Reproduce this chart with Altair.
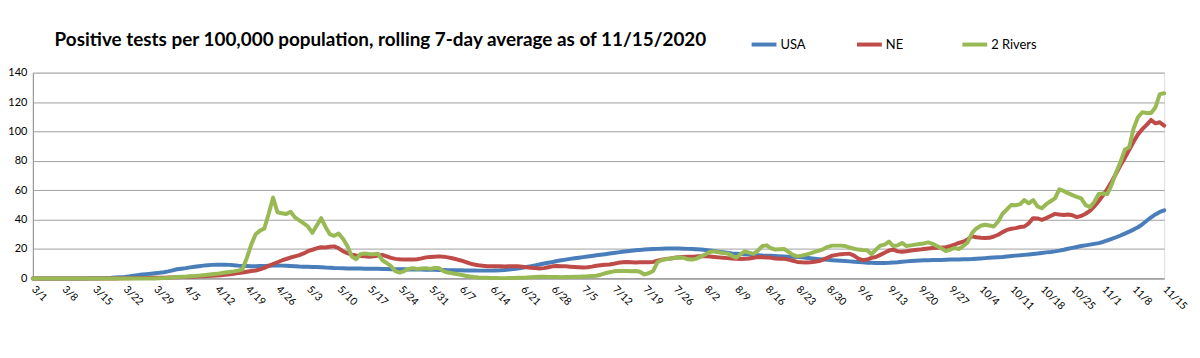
import altair as alt
import pandas as pd

tick_labels = ["3/1", "3/8", "3/15", "3/22", "3/29", "4/5", "4/12", "4/19", "4/26", "5/3",
               "5/10", "5/17", "5/24", "5/31", "6/7", "6/14", "6/21", "6/28", "7/5", "7/12",
               "7/19", "7/26", "8/2", "8/9", "8/16", "8/23", "8/30", "9/6", "9/13", "9/20",
               "9/27", "10/4", "10/11", "10/18", "10/25", "11/1", "11/8", "11/15"]

series_names = ["USA", "NE", "2 Rivers"]
series_colors = ["#4A7EBB", "#BE4B48", "#98B954"]

# daily values, 3/1 .. 11/15 (one row per week)
usa = [
    0, 0, 0, 0, 0, 0, 0,
    0, 0, 0, 0, 0, 0, 0.1,
    0.1, 0.1, 0.2, 0.3, 0.4, 0.6, 0.8,
    1.0, 1.4, 1.8, 2.2, 2.6, 2.9, 3.2,
    3.5, 3.8, 4.2, 4.8, 5.5, 6.2, 6.6,
    7.0, 7.5, 7.9, 8.3, 8.7, 9.0, 9.2,
    9.3, 9.3, 9.3, 9.2, 9.0, 8.7, 8.5,
    8.4, 8.3, 8.3, 8.4, 8.5, 8.6, 8.7,
    8.7, 8.7, 8.6, 8.5, 8.3, 8.1, 8.0,
    7.9, 7.8, 7.7, 7.6, 7.4, 7.3, 7.1,
    7.0, 6.9, 6.8, 6.8, 6.7, 6.7, 6.6,
    6.6, 6.5, 6.5, 6.4, 6.4, 6.3, 6.3,
    6.2, 6.2, 6.1, 6.1, 6.0, 6.0, 5.9,
    5.8, 5.8, 5.7, 5.7, 5.6, 5.6, 5.5,
    5.5, 5.4, 5.4, 5.4, 5.3, 5.3, 5.3,
    5.3, 5.4, 5.5, 5.7, 6.0, 6.4, 6.8,
    7.3, 7.8, 8.3, 8.9, 9.5, 10.1, 10.7,
    11.2, 11.8, 12.3, 12.8, 13.3, 13.7, 14.1,
    14.5, 14.9, 15.3, 15.7, 16.1, 16.5, 16.9,
    17.3, 17.7, 18.1, 18.5, 18.8, 19.1, 19.4,
    19.6, 19.8, 20.0, 20.1, 20.2, 20.3, 20.3,
    20.3, 20.3, 20.2, 20.1, 20.0, 19.8, 19.6,
    19.3, 19.0, 18.6, 18.2, 17.8, 17.4, 17.0,
    16.8, 16.6, 16.4, 16.2, 16.0, 15.8, 15.6,
    15.5, 15.4, 15.2, 15.0, 14.9, 14.8, 14.7,
    14.6, 14.3, 14.0, 13.7, 13.4, 13.1, 12.8,
    12.6, 12.4, 12.2, 12.0, 11.8, 11.6, 11.4,
    11.1, 10.9, 10.7, 10.6, 10.5, 10.5, 10.5,
    10.6, 10.8, 11.0, 11.3, 11.6, 11.8, 12.0,
    12.2, 12.3, 12.4, 12.5, 12.6, 12.6, 12.7,
    12.8, 12.8, 12.9, 13.0, 13.1, 13.2, 13.4,
    13.6, 13.8, 14.0, 14.2, 14.4, 14.6, 14.9,
    15.2, 15.5, 15.7, 16.0, 16.3, 16.6, 16.9,
    17.3, 17.7, 18.0, 18.4, 18.9, 19.5, 20.2,
    20.8, 21.4, 22.0, 22.5, 23.0, 23.5, 24.0,
    24.8, 25.8, 26.9, 28.0, 29.2, 30.5, 31.8,
    33.2, 34.8, 36.8, 39.2, 41.5, 43.5, 45.2,
    46.3,
]

ne = [
    0, 0, 0, 0, 0, 0, 0,
    0, 0, 0, 0, 0, 0, 0,
    0, 0, 0, 0, 0, 0, 0.1,
    0.1, 0.1, 0.2, 0.2, 0.3, 0.3, 0.4,
    0.4, 0.5, 0.5, 0.6, 0.7, 0.8, 0.9,
    1.0, 1.1, 1.2, 1.4, 1.5, 1.7, 1.8,
    1.9, 2.1, 2.4, 2.8, 3.2, 3.6, 4.0,
    4.5, 5.0, 5.4, 6.2, 7.2, 8.5, 9.8,
    11.0, 12.2, 13.2, 14.2, 15.0, 15.8, 17.0,
    18.5, 19.5, 20.5, 21.2, 21.0, 21.5, 21.8,
    20.5, 18.5, 17.2, 16.2, 15.6, 15.2, 15.0,
    14.8, 15.0, 15.6, 16.0, 15.0, 14.0, 13.3,
    13.0, 12.8, 12.8, 12.8, 13.0, 13.6, 14.3,
    14.6, 14.8, 15.0, 14.8, 14.3, 13.7, 13.0,
    12.2, 11.2, 10.2, 9.5, 9.0, 8.6, 8.3,
    8.2, 8.3, 8.2, 8.1, 8.2, 8.3, 8.2,
    8.0, 7.6, 7.2, 7.0, 6.8, 7.0, 7.6,
    8.2, 8.4, 8.3, 8.2, 8.0, 7.8, 7.6,
    7.4, 7.6, 8.0, 8.6, 9.0, 9.3, 9.5,
    10.0, 10.6, 11.0, 11.1, 11.0, 10.9, 11.0,
    11.0, 11.0, 11.2, 12.0, 12.8, 13.3, 13.5,
    14.0, 14.4, 14.6, 14.7, 14.8, 15.0, 15.0,
    15.0, 14.9, 14.6, 14.3, 14.0, 13.8, 13.5,
    13.3, 13.2, 13.3, 13.5, 14.0, 14.5, 14.4,
    14.3, 14.0, 13.6, 13.4, 13.3, 12.8, 12.0,
    11.2, 11.0, 10.9, 11.0, 11.3, 11.8, 13.0,
    14.2, 15.5, 16.0, 16.5, 16.7, 16.8, 15.5,
    13.5, 12.4, 12.8, 14.0, 14.6, 16.0, 17.5,
    19.0, 19.6, 18.4, 18.2, 18.5, 19.0, 19.3,
    19.6, 20.0, 20.4, 20.7, 20.9, 21.0, 21.2,
    22.0, 23.0, 24.1, 25.0, 26.5, 28.6, 28.0,
    27.6, 27.5, 27.6, 28.5, 29.7, 31.5, 33.0,
    33.8, 34.2, 35.0, 35.3, 37.5, 41.0, 40.8,
    39.8, 41.0, 42.5, 43.9, 43.5, 43.2, 43.5,
    43.0, 41.7, 42.5, 44.0, 46.0, 49.0, 52.5,
    56.5, 61.0, 66.0, 71.4, 77.0, 82.0, 87.5,
    93.0, 98.0, 101.5, 104.5, 107.8, 105.5, 106.2,
    104.0,
]

two_rivers = [
    0, 0, 0, 0, 0, 0, 0,
    0, 0, 0, 0, 0, 0, 0,
    0, 0, 0, 0, 0, 0, 0,
    0, 0, 0, 0, 0, 0, 0,
    0, 0.1, 0.2, 0.4, 0.7, 1.0, 1.1,
    1.2, 1.4, 1.6, 1.9, 2.2, 2.5, 2.8,
    3.1, 3.5, 4.0, 4.4, 4.8, 5.3, 6.2,
    14.0, 23.0, 30.0, 32.5, 34.0, 44.0, 55.0,
    45.0, 44.3, 43.8, 45.4, 41.5, 39.5, 37.5,
    35.3, 31.0, 36.0, 41.0, 35.0, 30.0, 29.0,
    30.5, 27.0, 22.0, 15.0, 13.0, 16.5, 17.0,
    16.5, 16.5, 16.8, 12.5, 10.5, 8.3, 5.0,
    4.0, 5.0, 6.5, 7.0, 6.5, 6.8, 7.0,
    6.5, 7.2, 7.0, 5.0, 4.0, 3.5, 3.0,
    2.5, 1.8, 1.3, 0.9, 0.6, 0.5, 0.4,
    0.3, 0.3, 0.2, 0.2, 0.3, 0.3, 0.4,
    0.5, 0.6, 0.8, 1.0, 1.1, 1.1, 1.0,
    1.0, 0.9, 0.8, 0.9, 1.0, 1.1, 1.2,
    1.3, 1.4, 1.6, 1.8, 2.5, 3.5, 4.2,
    4.8, 5.0, 5.0, 5.0, 4.8, 5.0, 4.5,
    2.7, 3.5, 5.0, 11.0, 12.5, 13.0, 13.5,
    14.0, 14.2, 14.0, 13.0, 12.8, 13.5, 15.0,
    16.5, 18.0, 18.4, 17.8, 17.2, 16.9, 15.5,
    14.0, 16.5, 18.4, 17.5, 16.7, 19.0, 22.0,
    22.5, 20.5, 19.6, 19.8, 20.0, 18.0, 16.0,
    15.0, 15.5, 16.2, 17.0, 18.0, 18.9, 20.0,
    21.5, 22.3, 22.3, 22.3, 22.0, 21.0, 20.2,
    19.6, 19.3, 19.1, 16.5, 19.5, 22.3, 23.0,
    25.0, 22.0, 22.5, 24.1, 22.0, 22.5, 23.0,
    23.4, 23.8, 24.5, 23.5, 22.0, 20.5, 18.5,
    19.5, 20.7, 20.0, 22.0, 24.5, 30.8, 34.0,
    35.8, 36.5, 36.0, 35.3, 38.7, 44.0, 47.0,
    50.0, 49.8, 50.5, 53.3, 51.1, 53.3, 49.0,
    47.7, 50.5, 52.5, 54.5, 60.6, 59.5, 58.0,
    56.7, 55.5, 54.5, 50.0, 48.5, 52.0, 57.5,
    57.8, 57.4, 64.0, 72.0, 79.2, 87.6, 89.3,
    102.0, 109.6, 113.0, 112.5, 112.5, 116.3, 125.4,
    126.0,
]

y_ticks = [0, 20, 40, 60, 80, 100, 120, 140]

rows = []
for name, vals in zip(series_names, [usa, ne, two_rivers]):
    for d, v in enumerate(vals):
        rows.append({"day": d, "value": v, "series": name})
df = pd.DataFrame(rows)

label_expr = "[" + ",".join("'" + t + "'" for t in tick_labels) + "][round(datum.value/7)]"
FONT = "Lato"

x = alt.X("day:Q",
          scale=alt.Scale(domain=[0, len(usa) - 1], nice=False, zero=False),
          axis=alt.Axis(values=list(range(0, len(usa), 7)), labelExpr=label_expr,
                        labelAngle=45, labelAlign="left", labelBaseline="middle",
                        labelFontSize=10.5, labelFont=FONT, labelColor="#000000",
                        labelPadding=9, ticks=False, grid=False, title=None,
                        domainColor="#8c8c8c", labelOverlap=False))
y = alt.Y("value:Q",
          scale=alt.Scale(domain=[0, 140], nice=False),
          axis=alt.Axis(values=y_ticks, grid=True, gridColor="#a0a0a0", gridWidth=1,
                        ticks=False, title=None, labelFontSize=11, labelFont=FONT,
                        labelColor="#000000", labelPadding=6, domainColor="#8c8c8c"))
color = alt.Color("series:N",
                  scale=alt.Scale(domain=series_names, range=series_colors),
                  legend=alt.Legend(orient="none", legendX=721, legendY=-43,
                                    direction="horizontal", title=None,
                                    symbolType="stroke", symbolSize=625,
                                    symbolStrokeWidth=4, labelFontSize=13,
                                    labelFont=FONT, labelColor="#000000",
                                    columnPadding=23, gridAlign="all", labelOffset=2))

layers = []
for name in series_names:
    layers.append(
        alt.Chart(df).transform_filter(alt.datum.series == name)
        .mark_line(strokeWidth=4, strokeJoin="round", strokeCap="round")
        .encode(x=x, y=y, color=color)
    )

chart = alt.layer(*layers).properties(
    width=1138, height=207,
    title=alt.TitleParams("Positive tests per 100,000 population, rolling 7-day average as of 11/15/2020",
                          anchor="start", dx=47, dy=38, offset=18, fontSize=19, font=FONT,
                          fontWeight="bold", color="#000000"),
    autosize=alt.AutoSizeParams(type="none"),
    padding={"left": 25, "top": 64, "right": 28, "bottom": 70},
).configure_view(stroke=None).configure(background="white")

chart.save("out.html", embed_options={"renderer": "svg", "actions": False})
